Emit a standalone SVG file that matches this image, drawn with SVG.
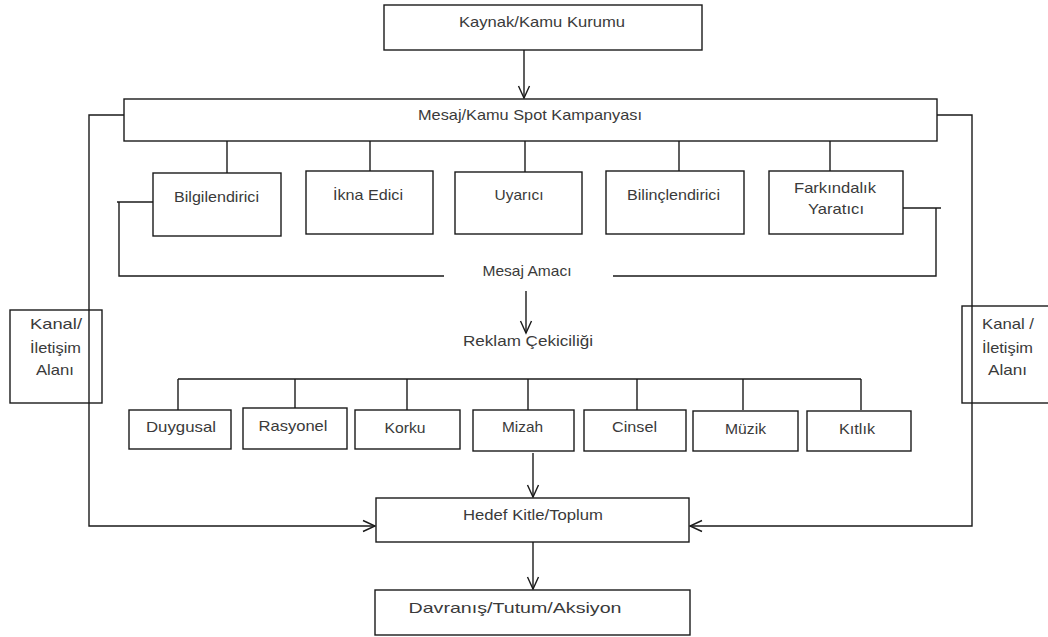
<svg xmlns="http://www.w3.org/2000/svg" width="1048" height="637" viewBox="0 0 1048 637">
<style>
.box{fill:#fff;stroke:#1a1a1a;stroke-width:1.4}
.open{fill:none;stroke:#1a1a1a;stroke-width:1.4}
.ln{fill:none;stroke:#1a1a1a;stroke-width:1.4}
.t{font-family:"Liberation Sans",Arial,sans-serif;font-size:15px;fill:#3a3a3a;text-anchor:middle}
</style>
<defs>
<marker id="ah" markerUnits="userSpaceOnUse" markerWidth="16" markerHeight="16" viewBox="-13 -8 16 16" refX="0" refY="0" orient="auto">
<path d="M-12,-5.5 L0,0 L-12,5.5" fill="none" stroke="#1a1a1a" stroke-width="1.4"/>
</marker>
</defs>
<rect width="1048" height="637" fill="#fff"/>
<g id="connectors">
<line class="ln" x1="524" y1="50" x2="524" y2="98" marker-end="url(#ah)"/>
<polyline class="ln" points="124,115 89,115 89,526 375,526" marker-end="url(#ah)"/>
<polyline class="ln" points="937,115 972,115 972,526 690,526" marker-end="url(#ah)"/>
<line class="ln" x1="227" y1="141" x2="227" y2="173"/>
<line class="ln" x1="370" y1="141" x2="370" y2="171"/>
<line class="ln" x1="525" y1="141" x2="525" y2="172"/>
<line class="ln" x1="679" y1="141" x2="679" y2="171"/>
<line class="ln" x1="830" y1="141" x2="830" y2="171"/>
<polyline class="ln" points="153,202 117,202"/>
<polyline class="ln" points="119,202 119,276 444,276"/>
<polyline class="ln" points="903,208 941,208"/>
<polyline class="ln" points="936,208 936,276 613,276"/>
<line class="ln" x1="526" y1="291" x2="526" y2="333" marker-end="url(#ah)"/>
<line class="ln" x1="178" y1="379" x2="861" y2="379"/>
<line class="ln" x1="178" y1="379" x2="178" y2="410"/>
<line class="ln" x1="295" y1="379" x2="295" y2="408"/>
<line class="ln" x1="407" y1="379" x2="407" y2="410"/>
<line class="ln" x1="528" y1="379" x2="528" y2="410"/>
<line class="ln" x1="637" y1="379" x2="637" y2="410"/>
<line class="ln" x1="743" y1="379" x2="743" y2="410"/>
<line class="ln" x1="861" y1="379" x2="861" y2="410"/>
<line class="ln" x1="533" y1="453" x2="533" y2="497" marker-end="url(#ah)"/>
<line class="ln" x1="533" y1="542" x2="533" y2="589" marker-end="url(#ah)"/>
</g>
<g id="kaynak"><rect class="box" x="384" y="5" width="318" height="45"/><text class="t" x="542" y="27" textLength="166" lengthAdjust="spacingAndGlyphs">Kaynak/Kamu Kurumu</text></g>
<g id="mesaj"><rect class="box" x="124" y="99" width="813" height="42"/><text class="t" x="530" y="120" textLength="224" lengthAdjust="spacingAndGlyphs">Mesaj/Kamu Spot Kampanyası</text></g>
<g id="bilgilendirici"><rect class="box" x="153" y="173" width="128" height="63"/><text class="t" x="216.5" y="202" textLength="85" lengthAdjust="spacingAndGlyphs">Bilgilendirici</text></g>
<g id="ikna"><rect class="box" x="306" y="171" width="127" height="63"/><text class="t" x="368" y="200" textLength="70" lengthAdjust="spacingAndGlyphs">İkna Edici</text></g>
<g id="uyarici"><rect class="box" x="455" y="172" width="127" height="62"/><text class="t" x="519" y="200" textLength="49" lengthAdjust="spacingAndGlyphs">Uyarıcı</text></g>
<g id="bilinclendirici"><rect class="box" x="606" y="171" width="138" height="63"/><text class="t" x="673.5" y="200" textLength="93" lengthAdjust="spacingAndGlyphs">Bilinçlendirici</text></g>
<g id="farkindalik"><rect class="box" x="769" y="171" width="134" height="63"/><text class="t" x="835" y="193" textLength="82" lengthAdjust="spacingAndGlyphs">Farkındalık</text><text class="t" x="836" y="214" textLength="56" lengthAdjust="spacingAndGlyphs">Yaratıcı</text></g>
<g id="mesaj-amaci"><text class="t" x="527" y="276" textLength="89" lengthAdjust="spacingAndGlyphs">Mesaj Amacı</text></g>
<g id="reklam"><text class="t" x="528" y="346" textLength="130" lengthAdjust="spacingAndGlyphs">Reklam Çekiciliği</text></g>
<g id="kanal-sol"><rect class="open" x="10" y="310" width="92" height="93"/><text class="t" x="56" y="329" textLength="52" lengthAdjust="spacingAndGlyphs">Kanal/</text><text class="t" x="55.5" y="353" textLength="51" lengthAdjust="spacingAndGlyphs">İletişim</text><text class="t" x="55" y="375" textLength="38" lengthAdjust="spacingAndGlyphs">Alanı</text></g>
<g id="kanal-sag"><rect class="open" x="962" y="306" width="94" height="97"/><text class="t" x="1008" y="329" textLength="52" lengthAdjust="spacingAndGlyphs">Kanal /</text><text class="t" x="1007.5" y="353" textLength="51" lengthAdjust="spacingAndGlyphs">İletişim</text><text class="t" x="1007.5" y="375" textLength="39" lengthAdjust="spacingAndGlyphs">Alanı</text></g>
<g id="duygusal"><rect class="box" x="129" y="410" width="102" height="39"/><text class="t" x="181" y="432" textLength="70" lengthAdjust="spacingAndGlyphs">Duygusal</text></g>
<g id="rasyonel"><rect class="box" x="243" y="408" width="104" height="41"/><text class="t" x="293" y="431" textLength="69" lengthAdjust="spacingAndGlyphs">Rasyonel</text></g>
<g id="korku"><rect class="box" x="355" y="410" width="105" height="39"/><text class="t" x="405" y="433" textLength="41" lengthAdjust="spacingAndGlyphs">Korku</text></g>
<g id="mizah"><rect class="box" x="473" y="410" width="101" height="41"/><text class="t" x="522.5" y="432" textLength="41" lengthAdjust="spacingAndGlyphs">Mizah</text></g>
<g id="cinsel"><rect class="box" x="584" y="410" width="102" height="41"/><text class="t" x="634.5" y="432" textLength="45" lengthAdjust="spacingAndGlyphs">Cinsel</text></g>
<g id="muzik"><rect class="box" x="693" y="411" width="105" height="40"/><text class="t" x="745.5" y="434" textLength="41" lengthAdjust="spacingAndGlyphs">Müzik</text></g>
<g id="kitlik"><rect class="box" x="807" y="411" width="104" height="40"/><text class="t" x="857" y="434" textLength="36" lengthAdjust="spacingAndGlyphs">Kıtlık</text></g>
<g id="hedef"><rect class="box" x="376" y="498" width="313" height="44"/><text class="t" x="533" y="520" textLength="140" lengthAdjust="spacingAndGlyphs">Hedef Kitle/Toplum</text></g>
<g id="davranis"><rect class="box" x="375" y="590" width="315" height="45"/><text class="t" x="515" y="613" textLength="213" lengthAdjust="spacingAndGlyphs">Davranış/Tutum/Aksiyon</text></g>
</svg>
